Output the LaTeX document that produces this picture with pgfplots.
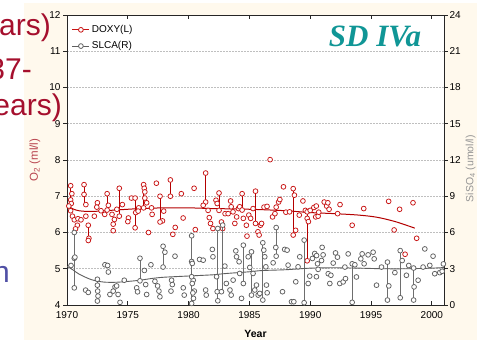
\documentclass[border=0pt]{standalone}
\usepackage{fontspec}
\setmainfont{Liberation Sans}
\newfontfamily\serifbi{Liberation Serif}
\usepackage{pgfplots}
\usepackage{pgfplotstable}
\pgfplotsset{compat=1.18}

\definecolor{cream}{RGB}{255,249,237}
\definecolor{dred}{RGB}{200,20,20}
\definecolor{cred}{RGB}{180,0,0}
\definecolor{gmark}{RGB}{95,95,95}
\definecolor{gline}{RGB}{110,110,110}
\definecolor{slidered}{RGB}{165,15,45}
\definecolor{slideblue}{RGB}{80,80,165}
\definecolor{tealt}{RGB}{16,150,150}
\definecolor{labred}{RGB}{185,70,80}
\definecolor{labgrey}{RGB}{150,150,150}

\pgfplotstableread{
x y
1970.30 7.29
1970.40 7.07
1970.30 6.90
1970.35 6.80
1970.15 6.73
1970.30 6.60
1970.45 6.45
1970.60 6.35
1970.90 6.38
1971.15 6.35
1970.85 6.20
1970.70 6.10
1971.40 7.32
1971.40 7.05
1971.55 6.77
1971.55 6.45
1971.75 6.20
1971.80 5.84
1971.75 5.78
1972.25 6.45
1972.50 6.82
1972.45 6.70
1972.80 6.60
1973.10 6.50
1973.30 7.07
1973.40 6.75
1973.30 6.62
1973.70 6.50
1973.80 6.23
1973.80 6.05
1973.90 6.36
1974.30 7.22
1974.10 6.64
1974.30 6.45
1974.55 6.77
1975.05 6.40
1975.00 6.30
1975.30 6.95
1975.60 6.95
1975.65 6.55
1975.60 6.13
1975.90 6.68
1975.85 6.59
1976.30 7.32
1976.35 7.22
1976.40 7.12
1976.40 6.95
1976.55 6.82
1976.30 6.68
1976.70 6.00
1977.00 6.50
1977.35 7.36
1977.65 7.00
1976.95 6.68
1977.85 6.32
1977.95 6.59
1977.65 6.29
1978.50 7.45
1978.50 7.00
1978.90 6.14
1978.70 5.95
1979.40 7.07
1979.55 6.40
1980.45 7.22
1980.55 6.08
1981.40 7.64
1981.40 6.84
1981.20 6.75
1981.60 6.61
1981.70 6.41
1981.80 6.25
1982.00 6.11
1982.25 6.89
1982.35 6.80
1982.50 7.09
1982.50 6.61
1982.70 6.29
1982.80 6.11
1983.00 6.52
1983.25 6.52
1983.45 6.87
1983.50 6.71
1983.65 6.57
1983.80 6.25
1983.95 6.43
1984.10 6.66
1984.20 6.71
1984.40 6.62
1984.40 7.07
1984.50 6.39
1984.75 6.20
1984.80 5.90
1984.95 6.48
1985.10 6.39
1985.30 6.66
1985.50 7.14
1985.50 6.25
1985.70 6.02
1985.80 5.93
1985.90 6.20
1986.00 6.25
1986.20 6.70
1986.45 6.72
1986.70 8.01
1986.90 6.43
1987.10 6.52
1987.20 6.70
1987.40 6.84
1987.50 6.91
1987.80 7.26
1988.00 6.56
1988.30 6.57
1988.60 7.21
1988.70 7.03
1988.80 6.06
1988.60 5.93
1989.10 6.48
1989.40 6.87
1989.60 6.61
1989.75 6.39
1989.85 6.30
1989.75 6.57
1989.75 5.22
1990.00 6.61
1990.30 6.69
1990.45 6.43
1990.50 6.73
1990.65 6.45
1990.70 6.56
1991.15 6.84
1991.35 6.73
1991.55 6.64
1991.45 6.82
1992.25 6.52
1992.45 6.77
1993.45 6.20
1994.40 6.66
1996.45 6.86
1996.90 6.07
1997.35 6.64
1997.80 5.40
1998.45 6.82
1998.75 5.84
}\doxy

\pgfplotstableread{
x y
1970.30 6.60
1970.30 7.29
1970.30 nan
1971.40 6.77
1971.40 7.32
1971.40 nan
1971.75 5.78
1971.75 6.20
1971.75 nan
1973.30 6.62
1973.30 7.07
1973.30 nan
1974.30 6.45
1974.30 7.22
1974.30 nan
1975.60 6.13
1975.60 6.95
1975.60 nan
1976.30 6.68
1976.30 7.32
1976.30 nan
1977.65 6.29
1977.65 7.00
1977.65 nan
1978.50 7.00
1978.50 7.45
1978.50 nan
1981.40 6.84
1981.40 7.64
1981.40 nan
1982.50 6.61
1982.50 7.09
1982.50 nan
1984.40 6.62
1984.40 7.07
1984.40 nan
1985.50 6.25
1985.50 7.14
1985.50 nan
1988.60 5.93
1988.60 7.21
1988.60 nan
1989.75 5.22
1989.75 6.57
}\doxyseg

\pgfplotstableread{
x y
1970.0 6.75
1970.5 6.65
1971.0 6.60
1972.0 6.58
1974.0 6.62
1976.0 6.66
1978.0 6.68
1980.0 6.68
1982.0 6.66
1984.0 6.65
1986.0 6.63
1988.0 6.60
1990.0 6.55
1992.0 6.52
1994.0 6.48
1995.5 6.42
1997.0 6.30
1998.6 6.12
}\doxyfit

\pgfplotstableread{
x y
1970.60 6.00
1970.60 1.42
1970.60 3.87
1970.33 3.27
1970.65 3.96
1971.53 1.23
1971.75 1.04
1972.50 2.13
1972.50 1.64
1972.52 1.15
1972.55 0.74
1972.50 0.33
1973.12 3.33
1973.34 3.27
1973.40 2.73
1973.53 0.87
1973.80 1.15
1973.95 1.50
1974.08 1.58
1974.20 0.87
1974.36 0.22
1974.71 2.05
1975.73 1.42
1975.80 1.09
1976.00 3.87
1976.36 2.86
1976.00 2.00
1976.47 1.69
1976.55 0.87
1976.90 3.33
1977.23 1.96
1977.45 1.58
1977.56 1.15
1977.64 0.68
1977.90 4.86
1978.05 4.37
1977.90 3.14
1978.60 2.05
1978.66 1.69
1978.55 1.15
1978.88 4.04
1979.56 1.42
1979.64 0.82
1980.25 5.73
1980.25 3.60
1980.38 2.05
1980.47 1.15
1980.30 3.44
1980.25 2.34
1980.30 1.78
1980.35 1.00
1980.40 0.55
1980.25 0.13
1980.90 3.77
1981.20 3.71
1981.40 1.24
1981.45 0.82
1981.95 4.60
1982.00 3.99
1982.30 2.34
1982.40 6.33
1982.35 1.10
1982.40 0.35
1982.70 1.10
1982.80 6.61
1982.98 3.22
1983.10 1.78
1983.40 1.24
1983.50 0.82
1983.66 2.06
1983.88 4.48
1983.94 3.99
1984.15 3.58
1984.20 2.61
1984.35 0.55
1984.50 4.95
1984.50 1.78
1984.90 3.99
1985.03 3.11
1985.17 4.40
1985.17 0.82
1985.30 2.61
1985.44 1.24
1985.58 1.65
1985.72 0.82
1985.85 0.96
1986.10 5.15
1986.18 4.54
1986.26 3.99
1986.35 3.16
1986.40 1.65
1986.46 1.01
1986.10 0.41
1986.95 3.49
1987.17 4.76
1987.20 6.41
1987.20 4.04
1987.72 1.10
1987.90 4.60
1988.10 4.54
1988.18 3.30
1988.46 0.27
1988.65 0.27
1988.81 1.92
1989.00 3.16
1989.14 3.99
1989.50 5.37
1989.50 0.19
1989.83 1.78
1989.96 2.39
1990.18 3.85
1990.37 4.26
1990.51 2.34
1990.52 4.09
1990.60 3.41
1990.65 2.95
1990.98 4.77
1991.06 4.15
1990.93 3.68
1991.48 2.59
1991.70 2.46
1991.61 1.78
1991.89 3.47
1992.08 4.31
1992.24 3.96
1992.43 1.78
1992.71 1.91
1992.90 2.18
1992.85 3.14
1993.12 4.23
1993.45 0.22
1993.45 3.41
1993.67 3.33
1993.80 2.32
1994.16 3.82
1994.27 4.23
1994.43 3.41
1994.76 4.15
1995.17 4.37
1995.26 3.82
1995.45 1.64
1995.86 3.14
1996.35 3.55
1996.35 0.41
1996.46 1.58
1996.96 2.68
1997.40 4.50
1997.40 0.60
1997.56 3.68
1997.91 2.46
1998.10 3.27
1998.50 3.06
1998.50 0.41
1998.54 1.50
1998.87 2.05
1999.28 3.14
1999.42 4.64
1999.83 3.28
2000.10 4.04
2000.24 2.59
2000.65 2.68
2000.85 2.79
2000.95 3.40
}\slca

\pgfplotstableread{
x y
1970.60 1.42
1970.60 6.00
1970.60 nan
1972.50 0.33
1972.50 2.13
1972.50 nan
1976.00 2.00
1976.00 3.87
1976.00 nan
1977.90 3.14
1977.90 4.86
1977.90 nan
1980.25 0.13
1980.25 5.73
1980.25 nan
1982.40 0.35
1982.40 6.33
1982.40 nan
1982.80 1.10
1982.80 6.61
1982.80 nan
1984.50 1.78
1984.50 4.95
1984.50 nan
1985.17 0.82
1985.17 4.40
1985.17 nan
1986.10 0.41
1986.10 5.15
1986.10 nan
1987.20 4.04
1987.20 6.41
1987.20 nan
1989.50 0.19
1989.50 5.37
1989.50 nan
1993.45 0.22
1993.45 3.41
1993.45 nan
1996.35 0.41
1996.35 3.55
1996.35 nan
1997.40 0.60
1997.40 4.50
1997.40 nan
1998.50 0.41
1998.50 3.06
}\slcaseg

\pgfplotstableread{
x y
1970.0 3.20
1970.5 2.90
1971.0 2.55
1972.0 2.10
1973.0 1.90
1974.0 1.88
1975.0 1.95
1976.0 2.05
1977.0 2.20
1978.0 2.30
1980.0 2.40
1982.0 2.50
1983.0 2.60
1985.0 2.75
1986.0 2.85
1988.0 2.92
1990.0 3.05
1992.0 3.08
1994.0 3.05
1996.0 3.00
1998.0 3.00
2000.0 3.05
2001.0 3.10
}\slcafit

\pgfplotsset{
  common/.style={
    scale only axis, width=377pt, height=290pt,
    at={(67pt,35pt)}, anchor=south west,
    xmin=1970, xmax=2001,
    axis line style={black!85, line width=0.9pt},
    tick style={black!85, line width=0.8pt},
    major tick length=3.5pt,
    tick align=inside,
    ticklabel style={font=\fontsize{10}{11}\selectfont},
    /pgf/number format/assume math mode=true,
    /pgf/number format/1000 sep={},
    unbounded coords=jump,
  }
}

\begin{document}
\begin{tikzpicture}[x=1pt,y=1pt]
\path[use as bounding box] (0,0) rectangle (477,340);
\fill[cream] (24,0) rectangle (477,337);
\node[anchor=base east, inner sep=0pt, text=slidered, font=\fontsize{30}{30}\selectfont] at (51,304) {ars)};
\node[anchor=base east, inner sep=0pt, text=slidered, font=\fontsize{30}{30}\selectfont] at (32,260) {37-};
\node[anchor=base east, inner sep=0pt, text=slidered, font=\fontsize{30}{30}\selectfont] at (62,224) {ears)};
\node[anchor=base east, inner sep=0pt, text=slideblue, font=\fontsize{30}{30}\selectfont] at (10,57) {n};

\begin{axis}[common,
  ymin=4, ymax=12, ytick={4,5,...,12},
  xtick={1970,1975,...,2000},
  xtick pos=both, ytick pos=left,
  y tick style={xshift=-3.5pt},
  yticklabel style={xshift=-3pt},
  xticklabel style={yshift=-3pt},
  axis background/.style={fill=white},
  ymajorgrids,
  grid style={gray!50, line width=0.6pt, dash pattern=on 1.5pt off 1.5pt},
  xlabel={Year},
  xlabel style={font=\bfseries\fontsize{10.5}{11}\selectfont, at={(axis description cs:0.5,-0.1)}, anchor=center},
  ylabel={O\textsubscript{2} (ml/l)},
  ylabel style={font=\fontsize{11.5}{12}\selectfont, text=labred, at={(axis description cs:-0.085,0.5)}, anchor=center},
  legend style={at={(0.01,0.975)}, anchor=north west, draw=none, fill=none,
    font=\fontsize{10}{11}\selectfont, row sep=3.5pt, inner sep=1pt},
  legend cell align=left,
]
\addlegendimage{dred, line width=0.8pt, mark=*, mark size=2.4pt, mark options={fill=white, draw=dred}}
\addlegendentry{DOXY(L)}
\addlegendimage{gmark, line width=0.8pt, mark=*, mark size=2.4pt, mark options={fill=white, draw=gmark}}
\addlegendentry{SLCA(R)}
\addplot[forget plot, cred, line width=0.9pt, mark=none] table {\doxyseg};
\addplot[forget plot, cred, line width=1pt, mark=none, smooth] table {\doxyfit};
\addplot[forget plot, only marks, mark=*, mark size=2.4pt, mark options={fill=white, draw=dred, line width=0.75pt}] table {\doxy};
\end{axis}

\begin{axis}[common,
  ymin=0, ymax=24, ytick={0,3,...,24},
  axis x line=none, axis y line*=right,
  y tick style={xshift=3.5pt},
  yticklabel style={xshift=2pt},
  ylabel={SiSO\textsubscript{4} (umol/l)},
  ylabel style={font=\fontsize{10.5}{11}\selectfont, text=labgrey, at={(axis description cs:1.071,0.47)}, anchor=center, rotate=0},
]
\addplot[gline, line width=0.8pt, mark=none] table {\slcaseg};
\addplot[gmark, line width=0.9pt, mark=none, smooth] table {\slcafit};
\addplot[only marks, mark=*, mark size=2.4pt, mark options={fill=white, draw=gmark, line width=0.75pt}] table {\slca};
\end{axis}

\node[font=\serifbi\bfseries\itshape\fontsize{31}{31}\selectfont, text=tealt] at (375,304) {SD IVa};
\end{tikzpicture}
\end{document}
